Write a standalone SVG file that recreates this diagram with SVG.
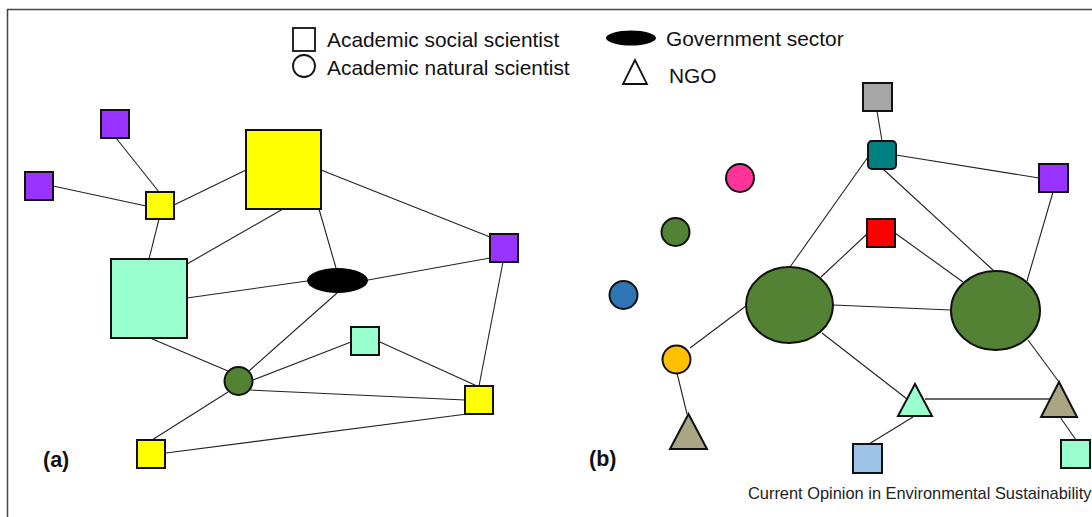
<svg xmlns="http://www.w3.org/2000/svg" width="1092" height="517" viewBox="0 0 1092 517">
<style>
.n{stroke:#111;stroke-width:2}
.e line{stroke:#222;stroke-width:1.1}
.t{font-family:"Liberation Sans",Arial,sans-serif;fill:#111}
.lg{font-size:20.9px}
.pl{font-size:21.5px;font-weight:bold}
</style>
<rect x="0" y="0" width="1092" height="517" fill="#fff"/>
<path d="M7.5,517 V9.5 H1092" fill="none" stroke="#444" stroke-width="1.5"/>
<g id="legend">
<rect x="293" y="28" width="22" height="23" fill="none" stroke="#111" stroke-width="1.8"/>
<text class="t lg" x="327" y="47">Academic social scientist</text>
<circle cx="304" cy="66" r="11" fill="none" stroke="#111" stroke-width="1.8"/>
<text class="t lg" x="327" y="75">Academic natural scientist</text>
<ellipse cx="631" cy="38" rx="25" ry="7.5" fill="#000"/>
<text class="t lg" x="666" y="46">Government sector</text>
<polygon points="635,60 623,84 647,84" fill="none" stroke="#111" stroke-width="1.8"/>
<text class="t lg" x="669" y="83">NGO</text>
</g>
<g id="connectors" class="e">
<line x1="116" y1="138" x2="159" y2="192"/>
<line x1="53" y1="186" x2="146" y2="206"/>
<line x1="174" y1="205" x2="246" y2="170"/>
<line x1="159" y1="219" x2="149" y2="259"/>
<line x1="283" y1="209" x2="187" y2="264"/>
<line x1="319" y1="209" x2="336" y2="268"/>
<line x1="321" y1="170" x2="490" y2="237"/>
<line x1="187" y1="298" x2="307" y2="281"/>
<line x1="368" y1="280" x2="490" y2="258"/>
<line x1="503" y1="262" x2="479" y2="386"/>
<line x1="380" y1="342" x2="477" y2="386"/>
<line x1="150" y1="338" x2="228" y2="371"/>
<line x1="337" y1="293" x2="249" y2="371"/>
<line x1="253" y1="380" x2="351" y2="342"/>
<line x1="250" y1="390" x2="465" y2="400"/>
<line x1="228" y1="392" x2="152" y2="440"/>
<line x1="166" y1="453" x2="467" y2="414"/>
<line x1="877" y1="111" x2="882" y2="141"/>
<line x1="896" y1="155" x2="1039" y2="178"/>
<line x1="868" y1="157" x2="790" y2="267"/>
<line x1="883" y1="169" x2="994" y2="271"/>
<line x1="867" y1="234" x2="821" y2="277"/>
<line x1="895" y1="233" x2="963" y2="282"/>
<line x1="1053" y1="192" x2="1027" y2="281"/>
<line x1="833" y1="305" x2="951" y2="310"/>
<line x1="746" y1="306" x2="690" y2="348"/>
<line x1="677" y1="373" x2="687" y2="414"/>
<line x1="822" y1="333" x2="907" y2="399"/>
<line x1="1028" y1="340" x2="1059" y2="382"/>
<line x1="925" y1="399" x2="1050" y2="399" style="stroke-width:1.6;stroke:#333"/>
<line x1="913" y1="417" x2="869" y2="444"/>
<line x1="1060" y1="417" x2="1076" y2="440"/>
</g>
<g id="a-purple-top"><rect class="n" x="101" y="110" width="28" height="28" fill="#9933FF"/></g>
<g id="a-purple-left"><rect class="n" x="25" y="172" width="28" height="28" fill="#9933FF"/></g>
<g id="a-yellow-small"><rect class="n" x="146" y="192" width="28" height="27" fill="#FFFF00"/></g>
<g id="a-yellow-big"><rect class="n" x="246" y="130" width="75" height="79" fill="#FFFF00"/></g>
<g id="a-aqua-big"><rect class="n" x="111" y="259" width="76" height="79" fill="#99FFCC"/></g>
<g id="a-gov"><ellipse cx="337.5" cy="280.5" rx="30.5" ry="12.5" fill="#000"/></g>
<g id="a-purple-right"><rect class="n" x="490" y="234" width="28" height="28" fill="#9933FF"/></g>
<g id="a-aqua-small"><rect class="n" x="351" y="327" width="28" height="28" fill="#99FFCC"/></g>
<g id="a-green"><circle class="n" cx="238.5" cy="381" r="14" fill="#548235"/></g>
<g id="a-yellow-right"><rect class="n" x="465" y="386" width="28" height="28" fill="#FFFF00"/></g>
<g id="a-yellow-bottom"><rect class="n" x="137" y="440" width="28" height="28" fill="#FFFF00"/></g>
<text class="t pl" x="43" y="467">(a)</text>
<g id="b-gray"><rect class="n" x="863" y="83" width="29" height="28" fill="#A6A6A6"/></g>
<g id="b-teal"><rect class="n" x="868" y="141" width="28" height="28" rx="4" fill="#008080"/></g>
<g id="b-pink"><circle class="n" cx="740" cy="178" r="14" fill="#FF3399"/></g>
<g id="b-green-small"><circle class="n" cx="675.5" cy="232" r="14" fill="#548235"/></g>
<g id="b-blue"><circle class="n" cx="623.5" cy="295" r="14" fill="#2E75B6"/></g>
<g id="b-red"><rect class="n" x="867" y="219" width="28" height="28" fill="#FF0000"/></g>
<g id="b-purple"><rect class="n" x="1039" y="164" width="29" height="28" fill="#9933FF"/></g>
<g id="b-green-left"><ellipse class="n" cx="789.5" cy="305" rx="43.5" ry="38" fill="#548235"/></g>
<g id="b-green-right"><ellipse class="n" cx="995.5" cy="310.5" rx="44.5" ry="39.5" fill="#548235"/></g>
<g id="b-orange"><circle class="n" cx="676.5" cy="359.5" r="14" fill="#FFC000"/></g>
<g id="b-tri-left"><polygon class="n" points="688.5,414 670,449 707,449" fill="#AAA683"/></g>
<g id="b-tri-aqua"><polygon class="n" points="915,384 898,416 932,416" fill="#99FFCC"/></g>
<g id="b-tri-right"><polygon class="n" points="1059,382 1041,417 1077,417" fill="#AAA683"/></g>
<g id="b-lightblue"><rect class="n" x="853" y="444" width="29" height="29" fill="#9DC3E6"/></g>
<g id="b-aqua-sq"><rect class="n" x="1061" y="440" width="29" height="28" fill="#99FFCC"/></g>
<text class="t pl" x="589" y="466">(b)</text>
<text class="t" x="748" y="499" style="font-size:16.4px;fill:#222">Current Opinion in Environmental Sustainability</text>
</svg>
